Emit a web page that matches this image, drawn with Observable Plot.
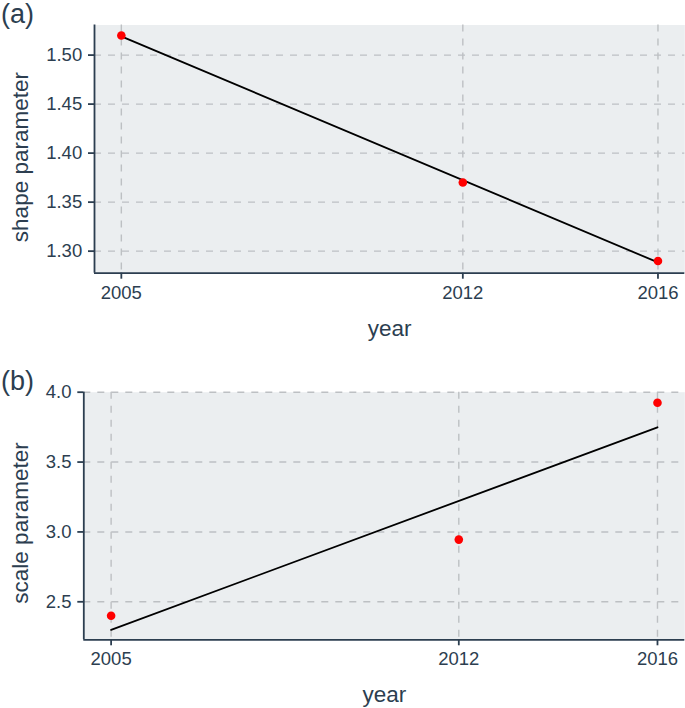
<!DOCTYPE html>
<html>
<head>
<meta charset="utf-8">
<script src="https://cdn.jsdelivr.net/npm/d3@7"></script>
<script src="https://cdn.jsdelivr.net/npm/@observablehq/plot@0.6"></script>
<style>
  html, body { margin: 0; padding: 0; background: #fff; }
  #wrap { width: 685px; height: 708px; position: relative; font-family: "Liberation Sans", Arial, sans-serif; }
  #wrap svg { display: block; }
</style>
</head>
<body>
<div id="wrap"></div>
<script>
// ---- data ----
const years = [2005, 2012, 2016];
const shapeValues = [1.52, 1.37, 1.29];
const scaleValues = [2.40, 2.945, 3.925];
const shapeTicks = [1.30, 1.35, 1.40, 1.45, 1.50];
const scaleTicks = [2.5, 3.0, 3.5, 4.0];
const panelLabels = ["(a)", "(b)"];
const yTitles = ["shape parameter", "scale parameter"];
const xTitle = "year";

const ink = "#2C3E50";
const gridColor = "#BDC0C3";
const panelFill = "#EBEEF0";
const font = "Liberation Sans, Arial, sans-serif";

function panel({values, yTicks, yFormat, yDomain, height, mt, mb, ml, label, ytitle, ylabelDx, ylabelDy}) {
  const data = years.map((yr, i) => ({year: yr, v: values[i]}));
  const xDomain = [2004.45, 2016.55];
  return Plot.plot({
    width: 685,
    height,
    marginTop: mt,
    marginBottom: mb,
    marginLeft: ml,
    marginRight: 0.7,
    style: {fontFamily: font, color: ink, background: "white", overflow: "visible"},
    x: {domain: xDomain, axis: null},
    y: {domain: yDomain, axis: null},
    marks: [
      Plot.frame({fill: panelFill, stroke: null}),
      Plot.ruleX(years, {x: d => d, stroke: gridColor, strokeWidth: 1.4, strokeDasharray: "7,7"}),
      Plot.ruleY(yTicks, {y: d => d, stroke: gridColor, strokeWidth: 1.4, strokeDasharray: "7,7"}),
      Plot.ruleX([xDomain[0]], {x: d => d, stroke: ink, strokeWidth: 1.8}),
      Plot.ruleY([yDomain[0]], {y: d => d, stroke: ink, strokeWidth: 1.8}),
      Plot.axisX(years, {anchor: "bottom", tickSize: 6, tickPadding: 6.5, tickFormat: d3.format("d"), fontSize: 18.5, stroke: ink, fill: ink, strokeWidth: 1.8, label: null}),
      Plot.axisY(yTicks, {anchor: "left", tickSize: 6, tickPadding: 6.3, tickFormat: d3.format(yFormat), fontSize: 18.5, stroke: ink, fill: ink, strokeWidth: 1.8, label: null}),
      Plot.linearRegressionY(data, {x: "year", y: "v", ci: 0, stroke: "black", strokeWidth: 1.8}),
      Plot.dot(data, {x: "year", y: "v", r: 4.3, fill: "#FF0000", stroke: null}),
      Plot.text([label], {frameAnchor: "top-left", dx: -ml + 0.5, dy: -mt + label.dy, text: d => d.t, textAnchor: "start", lineAnchor: "bottom", fontSize: 27, fill: ink}),
      Plot.text([ytitle], {frameAnchor: "left", dx: ylabelDx, dy: ylabelDy, rotate: -90, text: d => d, textAnchor: "middle", lineAnchor: "bottom", fontSize: 22.5, fill: ink}),
      Plot.text([xTitle], {frameAnchor: "bottom", dy: 62.4, text: d => d, textAnchor: "middle", lineAnchor: "bottom", fontSize: 22.5, fill: ink})
    ]
  });
}

const wrap = document.getElementById("wrap");

const a = panel({
  values: shapeValues, yTicks: shapeTicks, yFormat: ".2f",
  yDomain: [1.2775, 1.5307],
  height: 355, mt: 24.5, mb: 82.3, ml: 94,
  label: {t: panelLabels[0], dy: 22.8},
  ytitle: yTitles[0], ylabelDx: 27 - 94, ylabelDy: 8
});
wrap.appendChild(a);

const b = panel({
  values: scaleValues, yTicks: scaleTicks, yFormat: ".1f",
  yDomain: [2.228, 4.0],
  height: 353, mt: 36.7, mb: 68.7, ml: 83.3,
  label: {t: panelLabels[1], dy: 389.3 - 355},
  ytitle: yTitles[1], ylabelDx: 27 - 83.3, ylabelDy: 7
});
wrap.appendChild(b);
</script>
</body>
</html>
